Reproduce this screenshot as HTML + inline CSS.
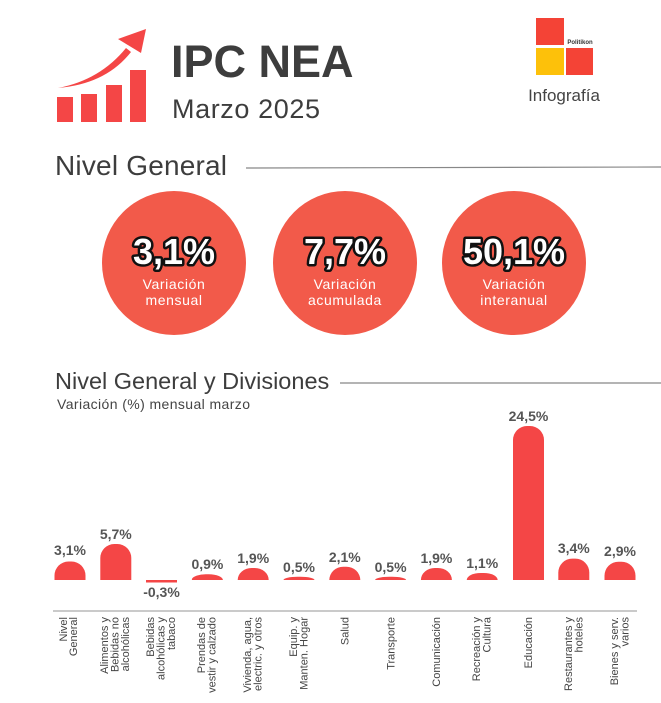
<!DOCTYPE html>
<html><head><meta charset="utf-8"><style>
html,body{margin:0;padding:0;background:#fff;}
svg{display:block;font-family:"Liberation Sans",sans-serif;}
</style></head><body>
<svg width="661" height="703" viewBox="0 0 661 703" xmlns="http://www.w3.org/2000/svg">
<rect width="661" height="703" fill="#fff"/>
<g fill="#f44646">
<rect x="57" y="97" width="16" height="25"/>
<rect x="81" y="94" width="16" height="28"/>
<rect x="106" y="85" width="16" height="37"/>
<rect x="130" y="70" width="16" height="52"/>
<path d="M58 88 Q100 80 126 48 L131 52 Q106 84 58 88 Z"/>
<polygon points="146,29 118,39 141,53"/>
</g>
<text x="171" y="77" font-size="45" font-weight="bold" fill="#3d3d3d">IPC NEA</text>
<text x="172" y="118" font-size="27" fill="#3d3d3d" letter-spacing="0.6">Marzo 2025</text>
<rect x="536" y="18" width="28" height="27" fill="#f44336"/>
<rect x="536" y="48" width="28" height="27" fill="#fdc10a"/>
<rect x="566" y="48" width="27" height="27" fill="#f44336"/>
<text x="580" y="44" font-size="6" font-weight="bold" fill="#333" text-anchor="middle">Politikon</text>
<text x="564" y="101" font-size="17" fill="#444" text-anchor="middle">Infografía</text>
<text x="55" y="175" font-size="28" fill="#3d3d3d" letter-spacing="0.2">Nivel General</text>
<line x1="246" y1="168" x2="661" y2="167" stroke="#888" stroke-width="1.2"/>
<g fill="#f25a4a">
<circle cx="174" cy="263" r="72"/>
<circle cx="345" cy="263" r="72"/>
<circle cx="514" cy="263" r="72"/>
</g>
<g font-size="36" font-weight="bold" fill="#fff" stroke="#111" stroke-width="5" paint-order="stroke" text-anchor="middle" stroke-linejoin="round">
<text x="174" y="264">3,1%</text>
<text x="345" y="264">7,7%</text>
<text x="514" y="264">50,1%</text>
</g>
<g font-size="14" fill="#fff" text-anchor="middle" letter-spacing="0.6">
<text x="174" y="289">Variación</text><text x="174" y="305">mensual</text>
<text x="345" y="289">Variación</text><text x="345" y="305">acumulada</text>
<text x="514" y="289">Variación</text><text x="514" y="305">interanual</text>
</g>
<text x="55" y="389" font-size="23.5" fill="#3d3d3d">Nivel General y Divisiones</text>
<line x1="340" y1="383" x2="661" y2="383" stroke="#888" stroke-width="1.2"/>
<text x="57" y="409" font-size="14" fill="#444" letter-spacing="0.4">Variación (%) mensual marzo</text>
<line x1="53" y1="611" x2="637" y2="611" stroke="#aaa" stroke-width="1.2"/>
<g fill="#f44646">
<path d="M54.5 580 V575.5 A14 14 0 0 1 68.5 561.5 H71.5 A14 14 0 0 1 85.5 575.5 V580Z"/>
<path d="M100.3 580 V558 A14 14 0 0 1 114.3 544 H117.3 A14 14 0 0 1 131.3 558 V580Z"/>
<rect x="146" y="580" width="31" height="2.5"/>
<path d="M191.9 580 V579 A14 5.7 0 0 1 205.9 574.3 H208.9 A14 5.7 0 0 1 222.9 580 Z"/>
<path d="M237.7 580 A14 12 0 0 1 251.7 568 H254.7 A14 12 0 0 1 268.7 580 Z"/>
<path d="M283.5 580 A14 3.2 0 0 1 297.5 576.8 H300.5 A14 3.2 0 0 1 314.5 580 Z"/>
<path d="M329.3 580 A14 13.2 0 0 1 343.3 566.8 H346.3 A14 13.2 0 0 1 360.3 580 Z"/>
<path d="M375.1 580 A14 3.2 0 0 1 389.1 576.8 H392.1 A14 3.2 0 0 1 406.1 580 Z"/>
<path d="M420.9 580 A14 12 0 0 1 434.9 568 H437.9 A14 12 0 0 1 451.9 580 Z"/>
<path d="M466.7 580 A14 7 0 0 1 480.7 573 H483.7 A14 7 0 0 1 497.7 580 Z"/>
<path d="M513 580 V440 A14 14 0 0 1 527 426 H530 A14 14 0 0 1 544 440 V580Z"/>
<path d="M558.3 580 V572.6 A14 14 0 0 1 572.3 558.6 H575.3 A14 14 0 0 1 589.3 572.6 V580Z"/>
<path d="M604.5 580 V575.7 A14 14 0 0 1 618.5 561.7 H621.5 A14 14 0 0 1 635.5 575.7 V580Z"/>
</g>
<g font-size="14" font-weight="bold" fill="#555" text-anchor="middle">
<text x="70" y="555">3,1%</text>
<text x="115.8" y="539">5,7%</text>
<text x="161.5" y="597">-0,3%</text>
<text x="207.4" y="569">0,9%</text>
<text x="253.2" y="563">1,9%</text>
<text x="299" y="572">0,5%</text>
<text x="344.8" y="562">2,1%</text>
<text x="390.6" y="572">0,5%</text>
<text x="436.4" y="563">1,9%</text>
<text x="482.2" y="568">1,1%</text>
<text x="528.5" y="421">24,5%</text>
<text x="573.8" y="553">3,4%</text>
<text x="620" y="556">2,9%</text>
</g>
<g font-size="11" fill="#444" text-anchor="end">
<text transform="translate(67,617) rotate(-90)">Nivel</text>
<text transform="translate(77,617) rotate(-90)">General</text>
<text transform="translate(108,617) rotate(-90)">Alimentos y</text>
<text transform="translate(118.5,617) rotate(-90)">Bebidas no</text>
<text transform="translate(129,617) rotate(-90)">alcohólicas</text>
<text transform="translate(154,617) rotate(-90)">Bebidas</text>
<text transform="translate(164.5,617) rotate(-90)">alcohólicas y</text>
<text transform="translate(175,617) rotate(-90)">tabaco</text>
<text transform="translate(205,617) rotate(-90)">Prendas de</text>
<text transform="translate(215.5,617) rotate(-90)">vestir y calzado</text>
<text transform="translate(251,617) rotate(-90)">Vivienda, agua,</text>
<text transform="translate(261.5,617) rotate(-90)">electric. y otros</text>
<text transform="translate(297,617) rotate(-90)">Equip. y</text>
<text transform="translate(307.5,617) rotate(-90)">Manten. Hogar</text>
<text transform="translate(348.5,617) rotate(-90)">Salud</text>
<text transform="translate(394.5,617) rotate(-90)">Transporte</text>
<text transform="translate(440,617) rotate(-90)">Comunicación</text>
<text transform="translate(480,617) rotate(-90)">Recreación y</text>
<text transform="translate(490.5,617) rotate(-90)">Cultura</text>
<text transform="translate(532,617) rotate(-90)">Educación</text>
<text transform="translate(572,617) rotate(-90)">Restaurantes y</text>
<text transform="translate(582.5,617) rotate(-90)">hoteles</text>
<text transform="translate(618,617) rotate(-90)">Bienes y serv.</text>
<text transform="translate(628.5,617) rotate(-90)">varios</text>
</g>
</svg>
</body></html>
